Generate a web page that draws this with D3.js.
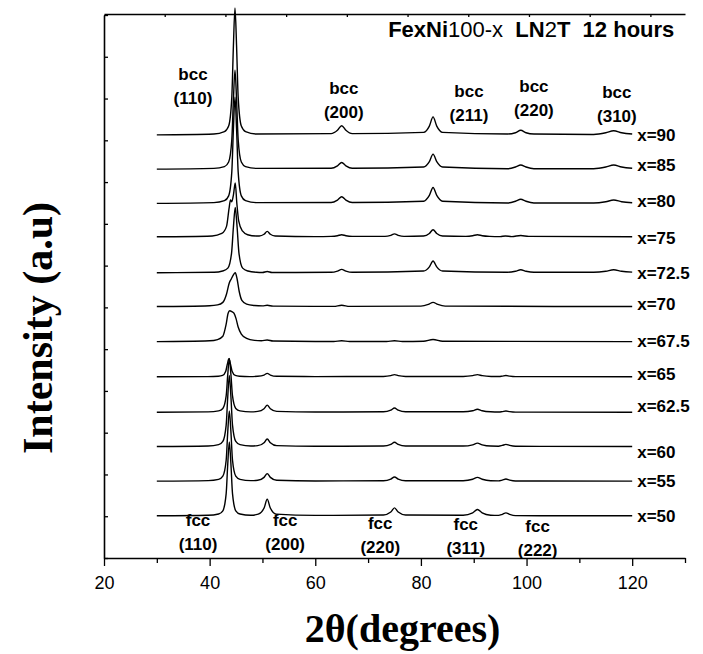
<!DOCTYPE html>
<html>
<head>
<meta charset="utf-8">
<script src="https://cdn.jsdelivr.net/npm/d3@7"></script>
<style>
body { margin: 0; background: #fff; }
svg { display: block; }
</style>
</head>
<body>
<div id="chart"></div>
<script>
const width = 703
const height = 654

// compositions, bottom pattern first
const samples = ["x=50", "x=55", "x=60", "x=62.5", "x=65", "x=67.5", "x=70", "x=72.5", "x=75", "x=80", "x=85", "x=90"]
// vertical offset of each pattern (a.u.)
const offsets = [101, 184, 267, 349, 434, 518, 602, 683, 769, 849, 931, 1013]

// [2theta, intensity above own baseline]
const x50 = [[30,0],[39.7,1.2],[41.7,4.4],[42.5,12],[43.13,53],[43.43,124],[43.73,177],[44.03,124],[44.33,53],[44.95,12],[45.75,4.4],[47.8,1.2],
  [49.2,4],[50.35,20],[50.9,40],[51.45,20],[52.6,4],[60,1],
  [72.9,2],[74.3,9],[75,19],[75.7,9],[77.1,2],
  [88,1.5],[89.8,7],[90.7,15],[91.6,7],[93.2,1.5],
  [94.7,1],[95.4,3.5],[96.1,7],[96.8,3.5],[97.9,0.5],[120,0]]
const x55 = [[30,0],[39.7,1.2],[41.7,4.2],[42.5,12],[43.13,50],[43.43,118],[43.73,168],[44.03,118],[44.33,50],[44.95,12],[45.75,4.2],[47.8,1.2],
  [49.1,2],[50.3,9],[50.9,18],[51.5,9],[52.7,2],[60,0.5],
  [72.9,1],[74.3,5],[75,10],[75.7,5],[77.1,1],
  [88,1],[89.8,4.5],[90.7,9],[91.6,4.5],[93.2,1],
  [94.7,0.7],[95.4,2.5],[96.1,5],[96.8,2.5],[97.9,0.5],[120,0]]
const x60 = [[30,0],[39.7,1.2],[41.7,4.3],[42.5,12],[43.13,51],[43.43,119],[43.73,170],[44.03,119],[44.33,51],[44.95,12],[45.75,4.3],[47.8,1.2],
  [49.1,2],[50.3,9],[50.9,18],[51.5,9],[52.7,2],[60,0.5],
  [72.9,1],[74.3,5],[75,10],[75.7,5],[77.1,1],
  [88,1],[89.8,4],[90.7,8],[91.6,4],[93.2,1],
  [94.7,0.7],[95.4,2.5],[96.1,5],[96.8,2.5],[97.9,0.5],[120,0]]
const x62 = [[30,0],[39.7,0.9],[41.7,3.2],[42.5,9],[43.13,39],[43.43,90],[43.73,129],[44.03,90],[44.33,39],[44.95,9],[45.75,3.2],[47.8,0.9],
  [49.1,2],[50.3,8.5],[50.9,17],[51.5,8.5],[52.7,2],[60,0.5],
  [72.9,1],[74.3,5],[75,10],[75.7,5],[77.1,1],
  [88,1],[89.8,3.5],[90.7,7],[91.6,3.5],[93.2,1],
  [94.8,0.5],[95.4,1.5],[96.1,3],[96.8,1.5],[97.9,0.3],[120,0]]
const x65 = [[30,0],[39.65,0.3],[41.65,1.1],[42.45,3],[43.05,13],[43.35,30],[43.65,43],[43.95,30],[44.25,13],[44.85,3],[45.65,1.1],[47.6,0.3],
  [49.1,1],[50.3,4],[50.9,8],[51.5,4],[52.7,1],[60,0.3],
  [72.9,0.6],[74.3,2.5],[75,5],[75.7,2.5],[77.1,0.6],
  [88,0.6],[89.8,2.5],[90.7,5],[91.6,2.5],[93.3,0.6],
  [94.8,0.4],[95.4,1.5],[96.1,3],[96.8,1.5],[97.9,0.3],[120,0]]
const x67 = [[30,0],[40,2],[41.5,5],[42.5,13],[43.1,40],[43.5,68],[43.8,74],[44.2,72],[44.6,68],[45,55],[45.4,35],[46,18],[47,8],[48.5,3],
  [49.8,2],[50.9,4],[52,1.5],[60,0.5],
  [63.5,0.5],[65,2],[66.5,0.5],
  [73.5,0.5],[75,2],[76.5,0.5],
  [80.5,1],[82.3,5],[84.1,1],[120,0]]
const x70 = [[30,0],[40,2],[41.5,4],[42.5,10],[43.2,30],[43.7,56],[44.1,66],[44.5,76],[44.85,81],[45.2,66],[45.6,36],[46.1,15],[47,6],[48.5,2.5],
  [50,1.5],[50.9,3],[52,1],[60,0.5],
  [63.5,0.5],[65,3],[66.5,0.5],
  [80,1],[81.4,5],[82.3,10],[83.2,5],[84.6,1],[120,0]]
const x72 = [[30,0],[40.85,1],[42.45,4],[43.45,11],[44.15,47],[44.5,109],[44.85,156],[45.2,109],[45.55,47],[46.25,11],[47.25,4],[48.85,1],
  [50,0.5],[50.9,3],[51.8,0.5],
  [63,1],[64.2,4],[65,8],[65.8,4],[67,1],
  [80.5,4],[81.6,14],[82.3,28],[83,14],[84.1,4],
  [96.4,1],[97.9,3.5],[98.9,7],[99.9,3.5],[101.4,1],
  [112.7,1],[115,3.5],[116.5,7],[118,3.5],[120,1.5]]
const x75 = [[30,0],[40.5,2],[42.3,8],[43.2,25],[43.7,70],[43.95,88],[44.2,84],[44.5,100],[44.85,129],[45.15,80],[45.5,38],[46.2,14],[47.2,5],[48.8,2],
  [49.4,2],[50.3,6],[50.9,13],[51.5,6],[52.4,2],[60,0.5],
  [63,1],[64.2,2.5],[65,5],[65.8,2.5],[67,1],
  [73.2,1],[74.3,3.5],[75,7],[75.7,3.5],[76.8,1],
  [80.5,2],[81.6,8],[82.3,17],[83,8],[84.1,2],
  [88.5,1],[89.8,2.5],[90.7,5],[91.6,2.5],[93,1],
  [95,0.5],[96,2],[97.2,0.5],[98.9,3],[100.4,1],[120,0]]
const x80 = [[30,0],[40.8,1.8],[42.8,6.4],[43.6,18],[44.2,76],[44.5,178],[44.8,254],[45.1,178],[45.4,76],[46,18],[46.8,6.4],[48.8,1.8],
  [63,2],[64.2,8],[65,16],[65.8,8],[67,2],
  [80.5,5],[81.6,19],[82.3,38],[83,19],[84.1,5],
  [96.4,1],[97.9,5],[98.9,10],[99.9,5],[101.4,1],
  [112.7,1],[115,4],[116.5,8],[118,4],[120,1.5]]
const x85 = [[30,0],[40.8,1.7],[42.8,6],[43.6,17],[44.2,71],[44.5,166],[44.8,237],[45.1,166],[45.4,71],[46,17],[46.8,6],[48.8,1.7],
  [63,2],[64.2,8],[65,16],[65.8,8],[67,2],
  [80.5,5],[81.6,18],[82.3,36],[83,18],[84.1,5],
  [96.4,1],[97.9,5],[98.9,10],[99.9,5],[101.4,1],
  [112.7,1],[115,5],[116.5,10],[118,5],[120,2]]
const x90 = [[30,0],[40.8,2],[42.8,7.6],[43.6,21],[44.2,91],[44.5,213],[44.8,304],[45.1,213],[45.4,91],[46,21],[46.8,7.6],[48.8,2],
  [63,3],[64.2,11],[65,22],[65.8,11],[67,3],
  [80.5,6],[81.6,21],[82.3,43],[83,21],[84.1,6],
  [96.4,2],[97.9,5],[98.9,11],[99.9,5],[101.4,2],
  [112.7,1],[115,5],[116.5,10],[118,5],[120,2]]
const patterns = [x50, x55, x60, x62, x65, x67, x70, x72, x75, x80, x85, x90]

// reflection labels: [2theta centre, intensity at baseline of first line]
const bccHkl = ["(110)", "(200)", "(211)", "(220)", "(310)"]
const bccAt = [[36.85, 1144], [65.4, 1111], [89.1, 1104], [101.4, 1116], [117.1, 1101]]
const fccHkl = ["(110)", "(200)", "(220)", "(311)", "(222)"]
const fccAt = [[37.8, 77], [54.3, 77], [72.3, 69], [88.5, 67], [102.1, 63]]

const xMajor = [20, 40, 60, 80, 100, 120]
const xMinor = [30, 50, 70, 90, 110, 130]
const yTicks = d3.range(0, 1301, 100)
const topTicks = [1, 2, 3, 4, 5, 6, 7, 8, 9]

// small vertical nudges (px) of the x= labels
const labelShift = [0, 0, 5, -6, -3, -1, -3, 0, 1, -2, -4, 0]

const x = d3.scaleLinear().domain([20, 130]).range([104, 685])
const y = d3.scaleLinear().domain([0, 1300]).range([558, 15])
const xTop = d3.scaleLinear().domain([0, 9.57]).range([104, 685])

const svg = d3.select("#chart").append("svg")
    .attr("width", width)
    .attr("height", height)
    .style("font-family", "'Liberation Sans', Arial, sans-serif")

// axes
const bottom = svg.append("g")
    .attr("transform", `translate(0,${y(0)})`)
    .call(d3.axisBottom(x).tickValues(xMajor).tickSize(8).tickPadding(10).tickSizeOuter(0))
bottom.selectAll("text").attr("font-size", 18).attr("font-family", "'Liberation Sans', Arial, sans-serif").attr("fill", "#000")
svg.append("g")
    .attr("transform", `translate(0,${y(0)})`)
    .call(d3.axisBottom(x).tickValues(xMinor).tickSize(5).tickFormat("").tickSizeOuter(0))
    .call(g => g.select(".domain").remove())

svg.append("g")
    .attr("transform", `translate(0,${y(1300) - 1})`)
    .call(d3.axisBottom(xTop).tickValues(topTicks).tickSize(3).tickFormat("").tickSizeOuter(0))

svg.append("g")
    .attr("transform", `translate(${x(20)},0)`)
    .call(d3.axisRight(y).tickValues(yTicks).tickSize(4).tickFormat("").tickSizeOuter(0))

svg.selectAll(".domain").attr("stroke", "#000").attr("stroke-width", 1.6)
svg.selectAll(".tick line").attr("stroke", "#000").attr("stroke-width", 1.3)

// patterns
const line = d3.line()
    .x(d => x(d[0]))
    .curve(d3.curveMonotoneX)

svg.append("g")
    .attr("fill", "none")
    .attr("stroke", "#000")
    .attr("stroke-width", 1.4)
    .attr("stroke-linejoin", "round")
    .selectAll("path")
    .data(patterns)
    .join("path")
    .attr("d", (p, i) => line.y(d => y(offsets[i] + d[1]))(p))

// x= labels at right end of each pattern
svg.append("g")
    .attr("font-size", 17)
    .attr("font-weight", "bold")
    .selectAll("text")
    .data(samples)
    .join("text")
    .attr("x", x(120) + 5)
    .attr("y", (d, i) => y(offsets[i]) + labelShift[i])
    .attr("dy", "0.36em")
    .text(d => d)

// reflection labels
function peakLabels(phase, hkl, at) {
    const g = svg.append("g")
        .attr("font-size", 17)
        .attr("font-weight", "bold")
        .attr("text-anchor", "middle")
        .selectAll("text")
        .data(hkl)
        .join("text")
        .attr("x", (d, i) => x(at[i][0]))
        .attr("y", (d, i) => y(at[i][1]))
    g.append("tspan").text(phase)
    g.append("tspan")
        .attr("x", (d, i) => x(at[i][0]))
        .attr("dy", 24)
        .text(d => d)
}
peakLabels("bcc", bccHkl, bccAt)
peakLabels("fcc", fccHkl, fccAt)

// title
const title = svg.append("text")
    .attr("x", x(73.8))
    .attr("y", y(1247))
    .attr("font-size", 22)
    .attr("font-weight", "bold")
title.append("tspan").text("FexNi")
title.append("tspan").attr("font-weight", "normal").text("100-x")
title.append("tspan").attr("xml:space", "preserve").text("  LN")
title.append("tspan").attr("font-weight", "normal").text("2")
title.append("tspan").text("T")
title.append("tspan").attr("xml:space", "preserve").text("  12 hours")

// axis titles
svg.append("text")
    .attr("transform", "translate(52,328) rotate(-90)")
    .attr("text-anchor", "middle")
    .attr("font-family", "'Liberation Serif', 'Times New Roman', serif")
    .attr("font-weight", "bold")
    .attr("font-size", 42)
    .text("Intensity (a.u)")

svg.append("text")
    .attr("x", (x(20) + x(130)) / 2 + 8)
    .attr("y", 642)
    .attr("text-anchor", "middle")
    .attr("font-family", "'Liberation Serif', 'Times New Roman', serif")
    .attr("font-weight", "bold")
    .attr("font-size", 40)
    .text("2θ(degrees)")
</script>
</body>
</html>
